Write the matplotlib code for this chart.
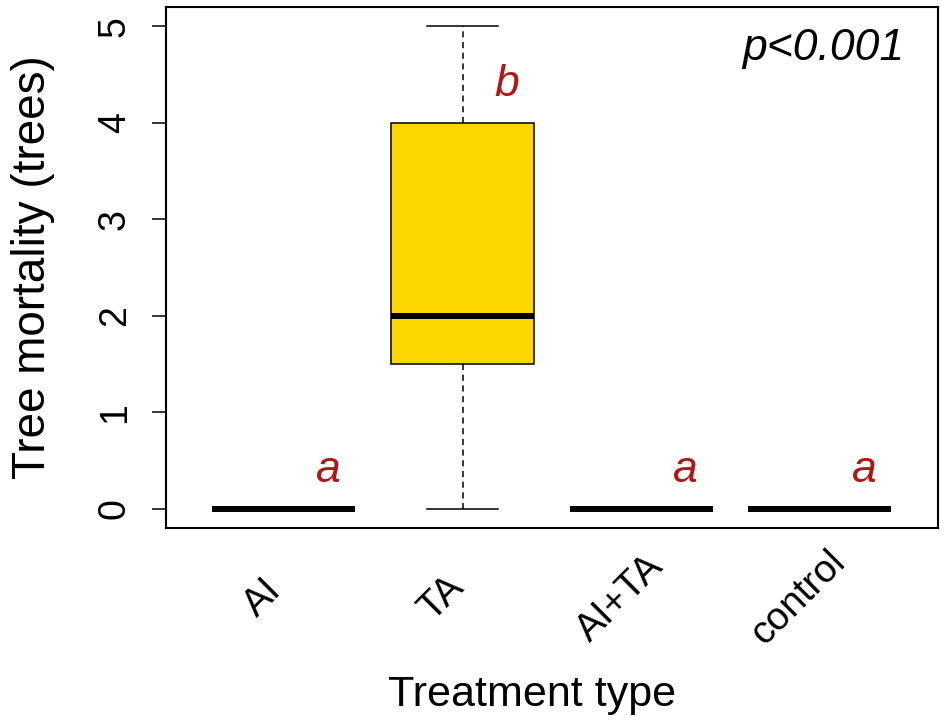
import matplotlib
matplotlib.use("Agg")
import matplotlib.pyplot as plt
import matplotlib.transforms as mtransforms

plt.rcParams['font.family'] = ['Liberation Sans', 'DejaVu Sans']

treatments = ["AI", "TA", "AI+TA", "control"]
whisker_low = [0, 0, 0, 0]
q1 = [0, 1.5, 0, 0]
median = [0, 2, 0, 0]
q3 = [0, 4, 0, 0]
whisker_high = [0, 5, 0, 0]
letters = ["a", "b", "a", "a"]
p_text = "p<0.001"

stats = []
for i in range(len(treatments)):
    stats.append({
        "label": treatments[i],
        "whislo": whisker_low[i],
        "q1": q1[i],
        "med": median[i],
        "q3": q3[i],
        "whishi": whisker_high[i],
    })

fig = plt.figure(figsize=(9.45, 7.24), dpi=100)
ax = fig.add_axes([0.1757, 0.2707, 0.9923 - 0.1757, 0.9903 - 0.2707])

pos = list(range(1, len(treatments) + 1))
bp = ax.bxp(stats, positions=pos, widths=0.8, patch_artist=True, showfliers=False,
            boxprops=dict(facecolor="#FFD700", edgecolor="black", linewidth=1.1),
            medianprops=dict(color="black", linewidth=4.3, solid_capstyle="butt"),
            whiskerprops=dict(color="black", linewidth=1.1, linestyle=(0, (4, 3))),
            capprops=dict(color="black", linewidth=1.1), capwidths=0.4)

ax.set_xlim(0.34, 4.66)
ax.set_ylim(-0.2, 5.2)

ax.set_yticks([0, 1, 2, 3, 4, 5])
ax.tick_params(axis="y", length=10, width=1.1, pad=14, labelsize=27, labelrotation=90)
for lab in ax.get_yticklabels():
    lab.set_va("center")

# x labels drawn by hand, rotated 45 and centred a bit left of each box
ax.set_xticks(pos)
ax.set_xticklabels([])
ax.tick_params(axis="x", length=0)
trans = mtransforms.blended_transform_factory(ax.transData, ax.transAxes)
trans = trans + mtransforms.ScaledTranslation(-15.1 / 72, -50.4 / 72, fig.dpi_scale_trans)
for i in range(len(treatments)):
    ax.text(pos[i], 0, treatments[i], transform=trans, rotation=45, fontsize=28,
            ha="center", va="center", rotation_mode="anchor")

for s in ax.spines.values():
    s.set_linewidth(1.5)

ax.set_xlabel("Treatment type", fontsize=31, labelpad=102)
ax.xaxis.label.set_x(0.474)
ax.set_ylabel("Tree mortality (trees)", fontsize=33, labelpad=30)

for i in range(len(treatments)):
    ax.text(pos[i] + 0.25, q3[i] + 0.4, letters[i], color="#B01818",
            fontsize=32, style="italic", ha="center", va="center")

ax.text(4.47, 4.77, p_text, fontsize=32, style="italic", ha="right", va="center")

fig.savefig("out.png", dpi=100)
